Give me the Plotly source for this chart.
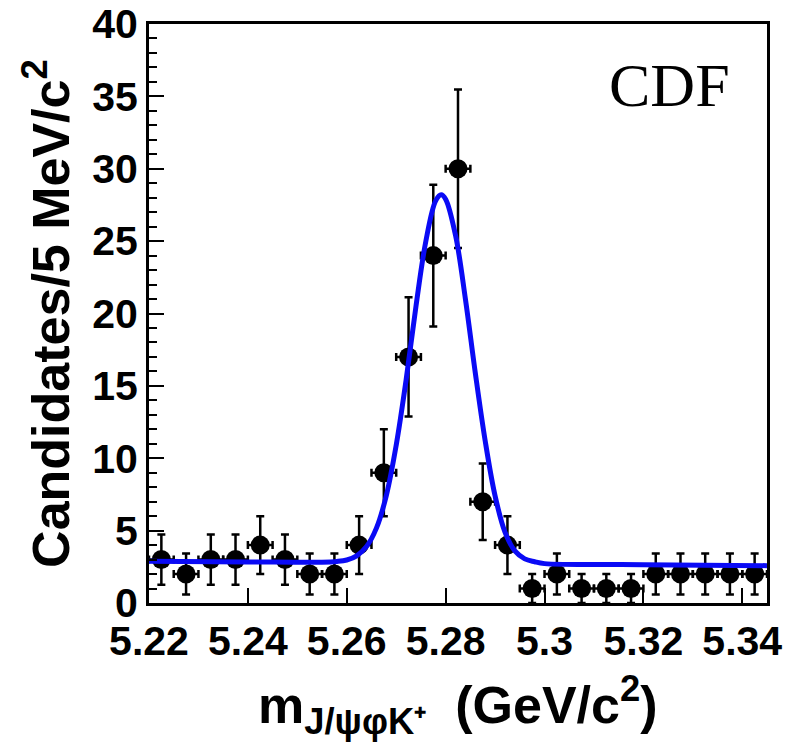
import numpy as np
import plotly.graph_objects as go

# Data: bin centres (GeV/c^2) and candidate counts per 5 MeV/c^2
bin_centers = [5.2225, 5.2275, 5.2325, 5.2375, 5.2425, 5.2475, 5.2525, 5.2575,
               5.2625, 5.2675, 5.2725, 5.2775, 5.2825, 5.2875, 5.2925, 5.2975,
               5.3025, 5.3075, 5.3125, 5.3175, 5.3225, 5.3275, 5.3325, 5.3375, 5.3425]
counts = [3, 2, 3, 3, 4, 3, 2, 2, 4, 9, 17, 24, 30, 7, 4, 1, 2, 1, 1, 1, 2, 2, 2, 2, 2]
count_errors = [float(np.sqrt(c)) for c in counts]
half_bin = 0.0025

# Fit curve
fit_x = [5.220, 5.240, 5.255, 5.258, 5.260, 5.262, 5.264, 5.266, 5.268, 5.270,
         5.272, 5.274, 5.276, 5.278, 5.2791, 5.280, 5.282, 5.284, 5.286, 5.288,
         5.290, 5.292, 5.294, 5.296, 5.298, 5.300, 5.320, 5.345]
fit_y = [2.88, 2.84, 2.82, 2.87, 2.97, 3.26, 3.9, 5.17, 7.42, 10.9,
         15.4, 20.5, 25.0, 27.8, 28.2, 27.9, 25.4, 21.0, 15.9, 11.2,
         7.4, 4.9, 3.6, 3.05, 2.85, 2.72, 2.65, 2.58]

x_ticks = [5.22, 5.24, 5.26, 5.28, 5.30, 5.32, 5.34]
x_tick_labels = ["5.22", "5.24", "5.26", "5.28", "5.3", "5.32", "5.34"]
y_ticks = [0, 5, 10, 15, 20, 25, 30, 35, 40]

fig = go.Figure()
fig.add_trace(go.Scatter(
    x=bin_centers, y=counts, mode="markers",
    marker=dict(color="black", size=19, symbol="circle"),
    error_y=dict(type="data", array=count_errors, color="black", thickness=2.5, width=4),
    error_x=dict(type="constant", value=half_bin, color="black", thickness=2.5, width=4),
    showlegend=False, cliponaxis=False,
))
fig.add_trace(go.Scatter(
    x=fit_x, y=fit_y, mode="lines",
    line=dict(color="rgb(10,10,245)", width=5, shape="spline"),
    showlegend=False,
))

tickfont = dict(family="Liberation Sans", size=41, color="black", weight="bold")
fig.update_layout(
    width=785, height=748,
    margin=dict(l=149, r=18, t=24, b=145),
    paper_bgcolor="white", plot_bgcolor="white",
    xaxis=dict(range=[5.22, 5.345], tickvals=x_ticks, ticktext=x_tick_labels,
               ticks="inside", ticklen=15, tickwidth=2, tickcolor="black",
               showline=True, linewidth=3, linecolor="black", mirror=True,
               showgrid=False, zeroline=False, tickfont=tickfont, automargin=False),
    yaxis=dict(range=[0, 40], tickvals=y_ticks,
               ticks="inside", ticklen=15, tickwidth=2, tickcolor="black",
               minor=dict(dtick=1, ticks="inside", ticklen=8, tickwidth=2, tickcolor="black"),
               showline=True, linewidth=3, linecolor="black", mirror=True,
               showgrid=False, zeroline=False, tickfont=tickfont, automargin=False),
)

fig.add_annotation(
    text="Candidates/5 MeV/c<sup>2</sup>", xref="paper", yref="paper",
    x=-0.166, y=0.5, textangle=-90, showarrow=False, xanchor="center", yanchor="middle",
    font=dict(family="Liberation Sans", size=52, color="black", weight="bold"),
)
fig.add_annotation(
    text="m<sub>J/ψφK⁺</sub>  (GeV/c<sup>2</sup>)", xref="paper", yref="paper",
    x=0.5, y=-0.243, showarrow=False, xanchor="center", yanchor="bottom",
    font=dict(family="Liberation Sans", size=52, color="black", weight="bold"),
)
fig.add_annotation(
    text="CDF", xref="paper", yref="paper",
    x=0.842, y=0.895, showarrow=False, xanchor="center", yanchor="middle",
    font=dict(family="Liberation Serif", size=62, color="black"),
)

fig.write_html("out.html")
